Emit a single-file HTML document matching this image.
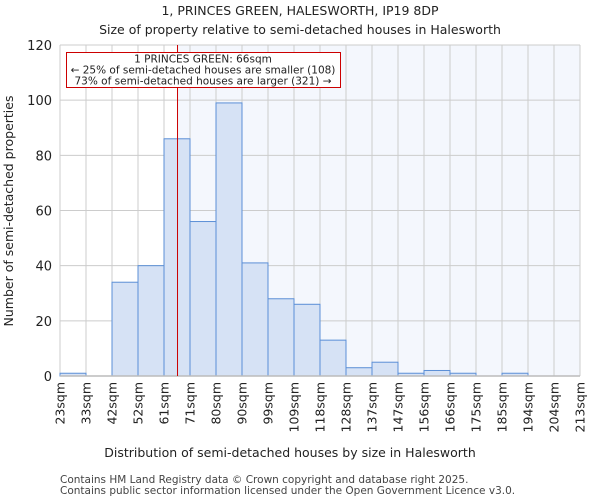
<!DOCTYPE html>
<html><head><meta charset="utf-8"><style>
body{margin:0;background:#fff;font-family:"DejaVu Sans","Liberation Sans",sans-serif;}
</style></head><body>
<svg width="600" height="500" xmlns="http://www.w3.org/2000/svg" font-family="DejaVu Sans, Liberation Sans, sans-serif">
<text x="300" y="15" text-anchor="middle" font-size="12.5" fill="#222">1, PRINCES GREEN, HALESWORTH, IP19 8DP</text>
<text x="300" y="34" text-anchor="middle" font-size="12.5" fill="#222">Size of property relative to semi-detached houses in Halesworth</text>
<g id="plot"></g>
<text x="290" y="457" text-anchor="middle" font-size="12.5" fill="#222">Distribution of semi-detached houses by size in Halesworth</text>
<text transform="translate(13,211) rotate(-90)" text-anchor="middle" font-size="12.5" fill="#222">Number of semi-detached properties</text>
<text x="60" y="483" font-size="10.5" fill="#444">Contains HM Land Registry data © Crown copyright and database right 2025.</text>
<text x="60" y="494" font-size="10.5" fill="#444">Contains public sector information licensed under the Open Government Licence v3.0.</text>
</svg>
<script>
const binLabels=["23sqm","33sqm","42sqm","52sqm","61sqm","71sqm","80sqm","90sqm","99sqm","109sqm","118sqm","128sqm","137sqm","147sqm","156sqm","166sqm","175sqm","185sqm","194sqm","204sqm","213sqm"];
const counts=[1,0,34,40,86,56,99,41,28,26,13,3,5,1,2,1,0,1,0,0];
const yTicks=[0,20,40,60,80,100,120];
const propertyIndex=4.52;
const NS="http://www.w3.org/2000/svg";
const X0=60,X1=580,Y0=376,Y1=45,YMAX=120;
const bw=(X1-X0)/counts.length;
const xs=i=>X0+i*bw;
const ys=v=>Y0-(v/YMAX)*(Y0-Y1);
const g=document.getElementById('plot');
function mk(t,a){const e=document.createElementNS(NS,t);for(const k in a)e.setAttribute(k,a[k]);g.appendChild(e);return e;}
const px=xs(propertyIndex);
let bg=mk('rect',{x:px,y:Y1,width:X1-px,height:Y0-Y1,fill:'#f4f7fd'});


yTicks.forEach(t=>{
 let l=mk('line',{x1:X0,x2:X1,y1:ys(t),y2:ys(t),stroke:'#ccc','stroke-width':1});
 
 
 let tx=mk('text',{x:X0-8,y:ys(t)+5,'text-anchor':'end','font-size':13,fill:'#222'});
 tx.textContent=t;
 
 
});
binLabels.forEach((lab,i)=>{
 let l=mk('line',{x1:xs(i),x2:xs(i),y1:Y1,y2:Y0,stroke:'#ccc','stroke-width':1});
 
 
 let tx=mk('text',{transform:`translate(${xs(i)+4.5},382) rotate(-90)`,'text-anchor':'end','font-size':12.5,fill:'#222'});
 tx.textContent=lab;
 
 
});
counts.forEach((v,i)=>{
 if(v<=0)return;
 let r=mk('rect',{x:xs(i),y:ys(v),width:bw,height:Y0-ys(v),fill:'#d6e2f5',stroke:'#5b8fd6','stroke-width':1});
 
 
});
let ax=mk('line',{x1:X0,x2:X1,y1:Y0,y2:Y0,stroke:'#bbb','stroke-width':1.5});


let ml=mk('line',{x1:px,x2:px,y1:Y1,y2:Y0,stroke:'#cc0000','stroke-width':1});


let box=mk('rect',{x:66.5,y:52.5,width:274,height:35,fill:'#fff',stroke:'#cc0000','stroke-width':1});


["1 PRINCES GREEN: 66sqm","← 25% of semi-detached houses are smaller (108)","73% of semi-detached houses are larger (321) →"].forEach((s,i)=>{
 let t=mk('text',{x:203,y:62.5+i*11,'text-anchor':'middle','font-size':10.5,fill:'#222'});
 t.textContent=s;
 
 
});
</script>
</body></html>
